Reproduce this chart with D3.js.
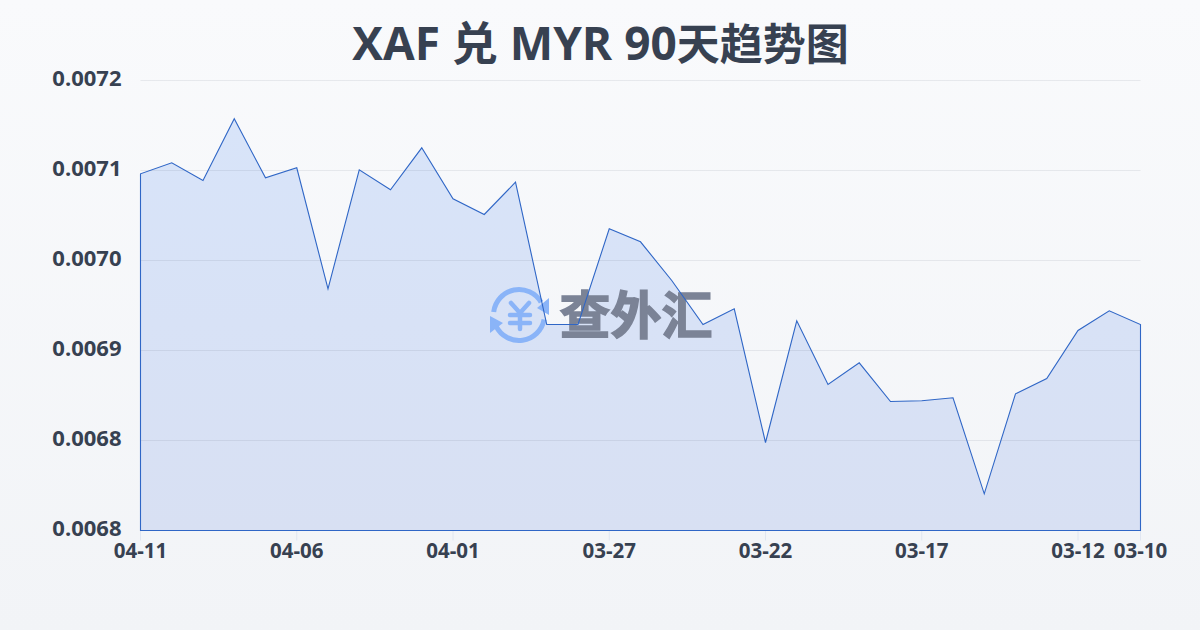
<!DOCTYPE html>
<html><head><meta charset="utf-8">
<script src="https://cdn.jsdelivr.net/npm/d3@7/dist/d3.min.js"></script>
<style>
html,body{margin:0;padding:0;width:1200px;height:630px;overflow:hidden}
svg{display:block}
text{font-family:"Open Sans","Noto Sans CJK SC",sans-serif}
</style></head><body><svg id="c" width="1200" height="630"></svg>
<script>
const titleLatin = "XAF 兑 MYR 90";
const titleCjk = "天趋势图";
const watermarkText = "查外汇";
const dates = ["04-11","04-10","04-09","04-08","04-07","04-06","04-05","04-04","04-03","04-02","04-01","03-31","03-30","03-29","03-28","03-27","03-26","03-25","03-24","03-23","03-22","03-21","03-20","03-19","03-18","03-17","03-16","03-15","03-14","03-13","03-12","03-11","03-10"];
const rates = [0.0071067,0.0071177,0.0071,0.0071617,0.0071027,0.0071127,0.0069917,0.0071107,0.0070907,0.0071327,0.0070817,0.007066,0.0070983,0.006956,0.006956,0.0070517,0.0070387,0.007,0.006956,0.0069717,0.006838,0.0069597,0.006896,0.0069177,0.006879,0.0068797,0.0068827,0.0067867,0.0068867,0.006902,0.00695,0.0069697,0.006956];
const yTicks = [0.0072,0.00711,0.00702,0.00693,0.00684,0.00675];
const yLabels = ["0.0072","0.0071","0.0070","0.0069","0.0068","0.0068"];
const xTicks = ["04-11","04-06","04-01","03-27","03-22","03-17","03-12","03-10"];

const svg = d3.select("#c");
const defs = svg.append("defs");
const bg = defs.append("linearGradient").attr("id","bg").attr("x1",0).attr("y1",0).attr("x2",0).attr("y2",1);
bg.append("stop").attr("offset",0).attr("stop-color","#f9fafc");
bg.append("stop").attr("offset",1).attr("stop-color","#f2f4f7");
const ag = defs.append("linearGradient").attr("id","ag").attr("x1",0).attr("y1",0).attr("x2",0).attr("y2",1);
ag.append("stop").attr("offset",0).attr("stop-color","#d8e4f9");
ag.append("stop").attr("offset",1).attr("stop-color","#d8e0f3");
svg.append("rect").attr("width",1200).attr("height",630).attr("fill","url(#bg)");

const x = d3.scalePoint().domain(dates).range([140.5,1140.5]);
const y = d3.scaleLinear().domain([0.00675,0.0072]).range([530.5,80.5]);

const title = svg.append("text").attr("x",600.5).attr("y",60).attr("text-anchor","middle")
  .attr("font-weight",700).attr("fill","#374151");
title.append("tspan").attr("font-size",46).text(titleLatin);
title.append("tspan").attr("font-size",43).text(titleCjk);

const area = d3.area().x((d,i)=>x(dates[i])).y0(y(0.00675)).y1(d=>y(d));
svg.append("path").datum(rates).attr("d",area).attr("fill","url(#ag)");

const ya = d3.axisLeft(y).offset(0).tickValues(yTicks).tickSize(-1000).tickFormat((d,i)=>yLabels[i]);
const gy = svg.append("g").attr("transform","translate(140.5,0)").call(ya);
gy.select(".domain").remove();
gy.selectAll("line").attr("stroke","#1f2a44").attr("stroke-opacity",0.08);
gy.selectAll("text").attr("x",-19).attr("dy",null).attr("y",0).attr("dominant-baseline","middle")
  .attr("font-size",22).attr("font-weight",700).attr("fill","#374151").style("font-family",'"Open Sans",sans-serif');

const xa = d3.axisBottom(x).offset(0).tickValues(xTicks).tickSize(10).tickPadding(3);
const gx = svg.append("g").attr("transform","translate(0,530.5)").call(xa);
gx.select(".domain").remove();
gx.selectAll("line").attr("stroke","#e0e6f1");
gx.selectAll("text").attr("font-size",20.5).attr("font-weight",700).attr("fill","#374151").style("font-family",'"Open Sans",sans-serif');

// watermark
const wm = svg.append("g");
const blue = "#8ab4f8";
const cx=519, cy=315, r=25.5;
const arc = d3.arc().innerRadius(r-2.5).outerRadius(r+2.5);
wm.append("path").attr("transform",`translate(${cx},${cy})`).attr("fill",blue)
  .attr("d",arc({startAngle:-1.45,endAngle:1.05}));
wm.append("path").attr("transform",`translate(${cx},${cy})`).attr("fill",blue)
  .attr("d",arc({startAngle:1.75,endAngle:4.25}));
wm.append("path").attr("fill",blue).attr("d","M549 298 L549 315 L537 308 Z");
wm.append("path").attr("fill",blue).attr("d","M490 316 L490 333 L503 323 Z");
wm.append("path").attr("fill","none").attr("stroke",blue).attr("stroke-width",4.5).attr("stroke-linecap","round")
  .attr("d","M511 303 L520 313 L529 303 M520 313 L520 329 M510 315 L530 315 M510 323 L530 323");
wm.append("text").attr("x",636).attr("y",334).attr("text-anchor","middle").attr("font-size",51).attr("font-weight",700)
  .attr("fill","#7b8396").attr("stroke","#7b8396").attr("stroke-width",1.5).style("font-family",'"Noto Sans CJK SC"').text(watermarkText);

const outline = d3.line().x(p=>p[0]).y(p=>p[1]);
const pts = rates.map((d,i)=>[x(dates[i]),y(d)]);
svg.append("path").attr("fill","none").attr("stroke","#2f66c6").attr("stroke-width",1.1).attr("stroke-linejoin","miter")
  .attr("d",outline([[x(dates[0]),y(0.00675)],...pts,[x(dates[dates.length-1]),y(0.00675)]])+"Z");
</script></body></html>
